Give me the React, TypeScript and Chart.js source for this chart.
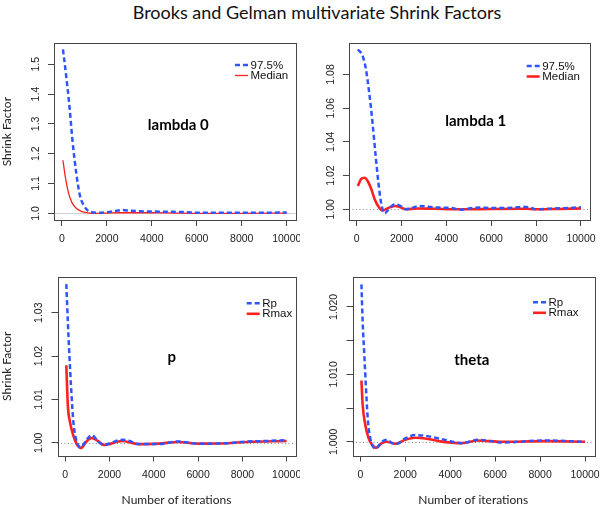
import React, { useEffect, useRef } from 'react';
import { Chart, registerables } from 'chart.js';

Chart.register(...registerables);

// ---------------- data ----------------
const TITLE = 'Brooks and Gelman multivariate Shrink Factors';
const X_LABEL = 'Number of iterations';
const Y_LABEL = 'Shrink Factor';
const X_TICKS = [0, 2000, 4000, 6000, 8000, 10000];

// lambda 0
const lambda0UpperX = [50, 180, 340, 470, 640, 810, 1000, 1150, 1330, 1600, 2000, 2400, 2700, 3000, 3500, 4000, 5000, 5500, 6000, 7000, 8000, 9000, 10000];
const lambda0Upper = [1.55, 1.47, 1.358, 1.247, 1.136, 1.058, 1.024, 1.01, 1.004, 1.002, 1.004, 1.008, 1.011, 1.009, 1.007, 1.006, 1.005, 1.004, 1.002, 1.002, 1.002, 1.002, 1.003];
const lambda0MedianX = [50, 150, 300, 450, 650, 900, 1200, 1500, 2000, 2600, 3000, 4000, 5000, 6000, 8000, 10000];
const lambda0Median = [1.178, 1.125, 1.068, 1.036, 1.016, 1.006, 1.001, 1.0, 1.001, 1.002, 1.002, 1.002, 1.001, 1.0, 1.0, 1.001];
const lambda0YTicks = [1.0, 1.1, 1.2, 1.3, 1.4, 1.5];
const lambda0YLabels = ['1.0', '1.1', '1.2', '1.3', '1.4', '1.5'];

// lambda 1
const lambda1UpperX = [50, 250, 400, 550, 700, 850, 1000, 1100, 1250, 1450, 1700, 1950, 2200, 2500, 2800, 3200, 3700, 4200, 4600, 5000, 5500, 6000, 6500, 7000, 7400, 7800, 8000, 8500, 9000, 9500, 10000];
const lambda1Upper = [1.0948, 1.0915, 1.084, 1.07, 1.052, 1.031, 1.012, 1.003, 0.9976, 1.0005, 1.003, 1.002, 1.0, 1.001, 1.002, 1.0015, 1.001, 1.0008, 0.9998, 1.0005, 1.001, 1.0008, 1.0008, 1.001, 1.0015, 1.0008, 1.0, 1.0003, 1.0006, 1.0008, 1.0012];
const lambda1MedianX = [50, 200, 350, 500, 650, 800, 1000, 1150, 1350, 1700, 1900, 2200, 2700, 3500, 4500, 6000, 7500, 8000, 9000, 10000];
const lambda1Median = [1.0138, 1.018, 1.0187, 1.0165, 1.012, 1.006, 1.001, 0.9992, 1.0004, 1.002, 1.0015, 1.0, 1.0005, 1.0003, 1.0, 1.0002, 1.0003, 1.0, 1.0002, 1.0005];
const lambda1YTicks = [1.0, 1.02, 1.04, 1.06, 1.08];
const lambda1YLabels = ['1.00', '1.02', '1.04', '1.06', '1.08'];

// p
const pRpX = [50, 120, 190, 270, 370, 490, 710, 940, 1200, 1450, 1750, 2120, 2570, 2870, 3300, 4200, 5100, 6000, 7300, 8200, 9000, 10000];
const pRp = [1.0366, 1.0278, 1.0201, 1.0124, 1.0047, 1.0008, 0.9989, 1.0005, 1.0018, 1.0005, 0.9995, 1.0001, 1.0007, 1.0005, 0.9997, 0.9997, 1.0003, 0.9998, 0.9999, 1.0003, 1.0004, 1.0006];
const pRmaxX = [50, 120, 220, 370, 520, 710, 940, 1200, 1450, 1750, 2570, 3300, 4200, 5100, 6000, 7300, 8200, 10000];
const pRmax = [1.0179, 1.0085, 1.0047, 1.0016, 0.9997, 0.9988, 1.0002, 1.0011, 1.0005, 0.9995, 1.0004, 0.9997, 0.9998, 1.0002, 0.9998, 0.9999, 1.0002, 1.0004];
const pYTicks = [1.0, 1.01, 1.02, 1.03];
const pYLabels = ['1.00', '1.01', '1.02', '1.03'];

// theta
const thetaRpX = [50, 104, 178, 252, 341, 444, 670, 960, 1190, 1410, 1630, 2000, 2440, 2890, 3630, 4520, 5260, 6300, 8220, 10000];
const thetaRp = [1.02335, 1.0178, 1.0129, 1.0079, 1.003, 1.0005, 0.999, 1.0, 1.0003, 0.9998, 0.9997, 1.0005, 1.001, 1.0009, 1.0004, 0.9998, 1.0003, 0.9999, 1.0002, 1.0];
const thetaRmaxX = [50, 104, 222, 370, 520, 700, 960, 1190, 1560, 2000, 2440, 2890, 3500, 4520, 5260, 6300, 8220, 10000];
const thetaRmax = [1.0091, 1.0055, 1.0025, 1.0005, 0.9996, 0.9991, 0.9998, 1.0, 0.9997, 1.0003, 1.0006, 1.0005, 1.0001, 0.9998, 1.0002, 1.0, 1.0001, 1.0];
const thetaYTicks = [1.0, 1.005, 1.01, 1.015, 1.02];
const thetaYLabels = ['1.000', '', '1.010', '', '1.020'];

// ---------------- styles / layout ----------------
const BLUE = '#2f55ff';
const RED = '#ff2020';
const BOX = '#454545';
const TICK_FONT = { family: '"Liberation Sans", Arial, sans-serif', size: 10.5 };
const LEGEND_FONT = '11.5px "Liberation Sans", Arial, sans-serif';
const AXIS_TITLE_FONT = { family: 'Lato, "Open Sans", sans-serif', size: 12 };
const ANNOT_FONT = 'bold 15px Lato, "Open Sans", sans-serif';

type PanelCfg = {
  rect: { x: number; y: number; w: number; h: number };
  area: { l: number; t: number; r: number; b: number };
  yMin: number; yMax: number;
  yTicks: number[]; yLabels: string[];
  name: string; namePos: [number, number];
  names: [string, string];
  upperX: number[]; upper: number[];
  lowerX: number[]; lower: number[];
  redWidth: number;
  refSolid: boolean;
  showYTitle: boolean; showXTitle: boolean;
  legendRight: number; legendTop: number;
};

const PANELS: PanelCfg[] = [
  {
    rect: { x: 0, y: 28, w: 300, h: 222 }, area: { l: 54, t: 43.3, r: 295.7, b: 220 },
    yMin: 0.9777, yMax: 1.5703, yTicks: lambda0YTicks, yLabels: lambda0YLabels,
    name: 'lambda 0', namePos: [0.514, 0.491], names: ['97.5%', 'Median'],
    upperX: lambda0UpperX, upper: lambda0Upper, lowerX: lambda0MedianX, lower: lambda0Median,
    redWidth: 1.3, refSolid: true, showYTitle: true, showXTitle: false, legendRight: 60.7, legendTop: 21.7,
  },
  {
    rect: { x: 300, y: 28, w: 300, h: 222 }, area: { l: 348.9, t: 43.3, r: 589.9, b: 220 },
    yMin: 0.99365, yMax: 1.0985, yTicks: lambda1YTicks, yLabels: lambda1YLabels,
    name: 'lambda 1', namePos: [0.526, 0.47], names: ['97.5%', 'Median'],
    upperX: lambda1UpperX, upper: lambda1Upper, lowerX: lambda1MedianX, lower: lambda1Median,
    redWidth: 2.6, refSolid: false, showYTitle: false, showXTitle: false, legendRight: 63.2, legendTop: 22.7,
  },
  {
    rect: { x: 0, y: 262, w: 300, h: 247 }, area: { l: 57.5, t: 277, r: 295.5, b: 455.5 },
    yMin: 0.99707, yMax: 1.03824, yTicks: pYTicks, yLabels: pYLabels,
    name: 'p', namePos: [0.48, 0.474], names: ['Rp', 'Rmax'],
    upperX: pRpX, upper: pRp, lowerX: pRmaxX, lower: pRmax,
    redWidth: 2.6, refSolid: false, showYTitle: true, showXTitle: true, legendRight: 48.8, legendTop: 26.3,
  },
  {
    rect: { x: 300, y: 262, w: 300, h: 247 }, area: { l: 352.5, t: 277, r: 594, b: 455.5 },
    yMin: 0.99797, yMax: 1.02444, yTicks: thetaYTicks, yLabels: thetaYLabels,
    name: 'theta', namePos: [0.494, 0.493], names: ['Rp', 'Rmax'],
    upperX: thetaRpX, upper: thetaRp, lowerX: thetaRmaxX, lower: thetaRmax,
    redWidth: 2.6, refSolid: false, showYTitle: false, showXTitle: true, legendRight: 61, legendTop: 25.3,
  },
];

function measureWidest(labels: string[]): number {
  const c = document.createElement('canvas');
  const ctx = c.getContext('2d')!;
  ctx.font = `${TICK_FONT.size}px ${TICK_FONT.family}`;
  let w = 0;
  labels.forEach((l) => { w = Math.max(w, ctx.measureText(l).width); });
  return w;
}

function makeDecor(p: PanelCfg) {
  return {
    id: 'panelDecor',
    beforeDatasetsDraw(chart: any) {
      const { ctx, chartArea, scales } = chart;
      const y1 = Math.round(scales.y.getPixelForValue(1)) + 0.5;
      ctx.save();
      ctx.beginPath();
      ctx.lineWidth = 1;
      if (p.refSolid) {
        ctx.strokeStyle = '#d0d0d0';
      } else {
        ctx.strokeStyle = '#8a8a8a';
        ctx.setLineDash([1, 2.5]);
      }
      ctx.moveTo(chartArea.left, y1);
      ctx.lineTo(chartArea.right, y1);
      ctx.stroke();
      ctx.restore();
    },
    afterDraw(chart: any) {
      const { ctx, chartArea } = chart;
      ctx.save();
      // box
      ctx.strokeStyle = BOX;
      ctx.lineWidth = 1;
      ctx.strokeRect(Math.round(chartArea.left) + 0.5, Math.round(chartArea.top) + 0.5,
        Math.round(chartArea.right - chartArea.left), Math.round(chartArea.bottom - chartArea.top));
      // legend
      const lx = chartArea.right - p.legendRight;
      const ds = chart.data.datasets;
      ds.forEach((d: any, i: number) => {
        const ly = chartArea.top + p.legendTop + i * 10.5;
        ctx.beginPath();
        ctx.strokeStyle = d.borderColor;
        ctx.lineWidth = d.borderWidth;
        ctx.setLineDash(d.borderDash || []);
        ctx.moveTo(lx, ly);
        ctx.lineTo(lx + 13, ly);
        ctx.stroke();
        ctx.setLineDash([]);
        ctx.fillStyle = '#111';
        ctx.font = LEGEND_FONT;
        ctx.textAlign = 'left';
        ctx.textBaseline = 'middle';
        ctx.fillText(d.label, lx + 15.5, ly + 0.5);
      });
      // panel name
      ctx.fillStyle = '#000';
      ctx.font = ANNOT_FONT;
      ctx.textAlign = 'center';
      ctx.textBaseline = 'alphabetic';
      ctx.fillText(p.name,
        chartArea.left + p.namePos[0] * (chartArea.right - chartArea.left),
        chartArea.top + p.namePos[1] * (chartArea.bottom - chartArea.top));
      ctx.restore();
    },
  };
}

function Panel({ p }: { p: PanelCfg }) {
  const ref = useRef<HTMLCanvasElement>(null);
  useEffect(() => {
    const widest = measureWidest(p.yLabels);
    const yPad = 18 - 6 - widest / 2;
    const toPts = (xs: number[], ys: number[]) => xs.map((x, i) => ({ x, y: ys[i] }));
    const chart = new Chart(ref.current!, {
      type: 'line',
      data: {
        datasets: [
          {
            label: p.names[0], data: toPts(p.upperX, p.upper), borderColor: BLUE, borderWidth: 2.5,
            borderDash: [5, 3], pointRadius: 0, tension: 0.4, cubicInterpolationMode: 'monotone', fill: false,
          },
          {
            label: p.names[1], data: toPts(p.lowerX, p.lower), borderColor: RED, borderWidth: p.redWidth,
            pointRadius: 0, tension: 0.4, cubicInterpolationMode: 'monotone', fill: false,
          },
        ],
      },
      options: {
        animation: false,
        responsive: false,
        devicePixelRatio: 1,
        events: [],
        layout: {
          padding: { left: 0, bottom: 0, top: p.area.t - p.rect.y, right: p.rect.x + p.rect.w - p.area.r },
        },
        plugins: { legend: { display: false }, tooltip: { enabled: false } },
        scales: {
          x: {
            type: 'linear', min: -348, max: 10398,
            afterBuildTicks: (s: any) => { s.ticks = X_TICKS.map((v) => ({ value: v })); },
            afterFit: (s: any) => { s.height = p.rect.y + p.rect.h - p.area.b; s.paddingLeft = 0; s.paddingRight = 0; },
            ticks: { autoSkip: false, maxRotation: 0, minRotation: 0, padding: 7, font: TICK_FONT, color: '#222',
              callback: (v: any) => String(v) },
            grid: { drawOnChartArea: false, drawTicks: true, tickLength: 6, tickColor: BOX, color: BOX },
            border: { display: false },
            title: { display: p.showXTitle, text: X_LABEL, font: AXIS_TITLE_FONT, color: '#222', padding: { top: 0, bottom: 2 } },
          },
          y: {
            type: 'linear', min: p.yMin, max: p.yMax,
            afterBuildTicks: (s: any) => { s.ticks = p.yTicks.map((v) => ({ value: v })); },
            afterFit: (s: any) => { s.width = p.area.l - p.rect.x; s.paddingTop = 0; s.paddingBottom = 0; },
            ticks: { autoSkip: false, minRotation: 90, maxRotation: 90, crossAlign: 'center', padding: yPad,
              font: TICK_FONT, color: '#222', callback: (_v: any, i: number) => p.yLabels[i] },
            grid: { drawOnChartArea: false, drawTicks: true, tickLength: 6, tickColor: BOX, color: BOX },
            border: { display: false },
            title: { display: p.showYTitle, text: Y_LABEL, font: AXIS_TITLE_FONT, color: '#222', padding: { top: 0, bottom: 0 } },
          },
        },
      } as any,
      plugins: [makeDecor(p)],
    });
    return () => chart.destroy();
  }, [p]);
  return (
    <canvas
      ref={ref}
      width={p.rect.w}
      height={p.rect.h}
      style={{ position: 'absolute', left: p.rect.x, top: p.rect.y, width: p.rect.w, height: p.rect.h }}
    />
  );
}

export default function App() {
  return (
    <div style={{ position: 'fixed', left: 0, top: 0, width: 600, height: 509, background: '#fff', overflow: 'hidden' }}>
      <div
        style={{
          position: 'absolute', left: 317, top: 12, transform: 'translate(-50%, -50%)', whiteSpace: 'nowrap',
          fontFamily: 'Lato, "Open Sans", sans-serif', fontSize: 18, color: '#111', lineHeight: 1,
        }}
      >
        {TITLE}
      </div>
      {PANELS.map((p, i) => <Panel key={i} p={p} />)}
    </div>
  );
}
